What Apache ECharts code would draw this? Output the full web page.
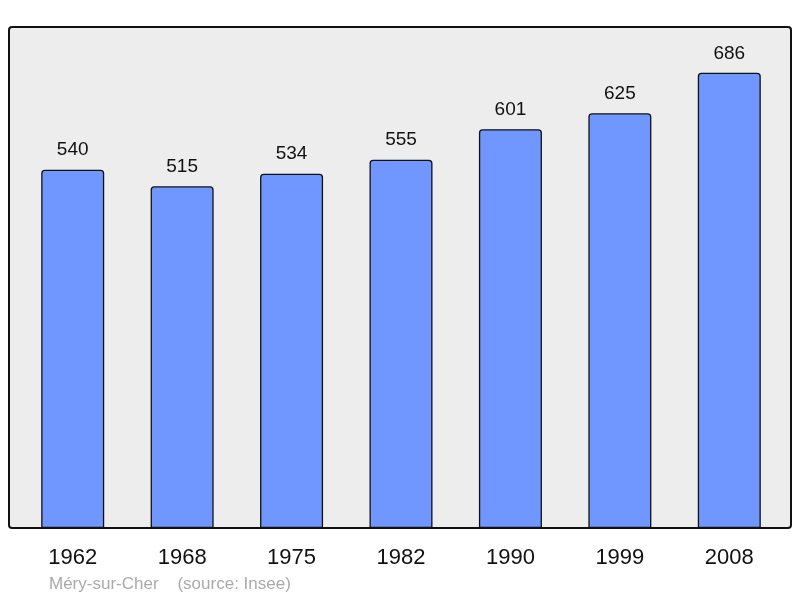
<!DOCTYPE html>
<html><head><meta charset="utf-8">
<script src="https://cdn.jsdelivr.net/npm/echarts@6/dist/echarts.min.js"></script>
<style>html,body{margin:0;padding:0;background:#fff}#c{width:800px;height:598px}</style>
</head><body><div id="c"></div>
<script>
const categories = ['1962','1968','1975','1982','1990','1999','2008'];
const population = [540,515,534,555,601,625,686];
const footer = 'Méry-sur-Cher    (source: Insee)';

const chart = echarts.init(document.getElementById('c'), null, {renderer:'canvas'});
chart.setOption({
  backgroundColor:'#ffffff',
  animation:false,
  graphic:[
    {type:'rect', z:-1, shape:{x:9,y:27,width:782,height:501,r:3}, style:{fill:'#ededed',stroke:'#111',lineWidth:2}},
    {type:'text', left:49, top:576, style:{text:footer, fill:'#aaaaaa', font:'17px "Liberation Sans", Arial, sans-serif'}}
  ],
  grid:{left:18, right:16, top:27, bottom:70},
  xAxis:{type:'category', data:categories,
    axisLine:{show:false}, axisTick:{show:false},
    axisLabel:{color:'#111', fontSize:22, margin:19, fontFamily:'"Liberation Sans", Arial, sans-serif'}},
  yAxis:{type:'value', min:0, max:755, show:false, splitLine:{show:false}},
  series:[{type:'bar', data:population, barWidth:63,
    itemStyle:{color:'#6f97ff', borderColor:'#111', borderWidth:1.3, borderRadius:[3,3,0,0]},
    label:{show:true, position:'top', distance:10, color:'#111', fontSize:19, fontFamily:'"Liberation Sans", Arial, sans-serif'}
  }]
});
</script></body></html>
